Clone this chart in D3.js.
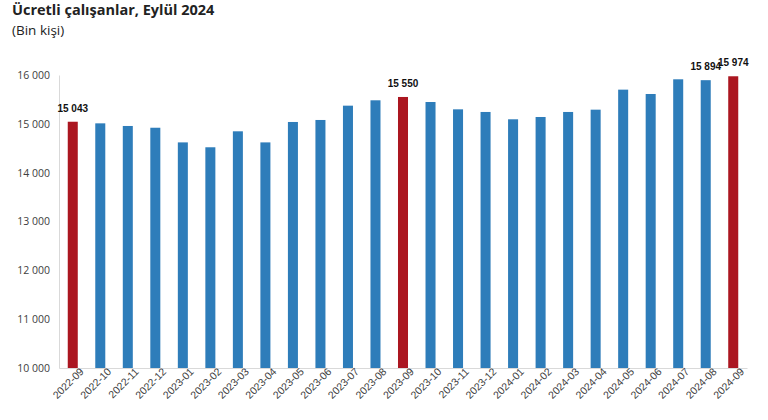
<!DOCTYPE html>
<html>
<head>
<meta charset="utf-8">
<script src="https://cdn.jsdelivr.net/npm/d3@7.9.0/dist/d3.min.js"></script>
<style>
  body { margin: 0; background: #fff; }
  svg { display: block; font-family: "Open Sans", "DejaVu Sans", sans-serif; }
</style>
</head>
<body>
<svg id="chart" width="768" height="420"></svg>
<script>
// months shown on the x axis
const months = [
  '2022-09', '2022-10', '2022-11', '2022-12', '2023-01', '2023-02', '2023-03',
  '2023-04', '2023-05', '2023-06', '2023-07', '2023-08', '2023-09', '2023-10',
  '2023-11', '2023-12', '2024-01', '2024-02', '2024-03', '2024-04', '2024-05',
  '2024-06', '2024-07', '2024-08', '2024-09'
];
// wage earners, thousands (labelled ones are exact)
const employees = [
  15043, 15010, 14956, 14920, 14620, 14520, 14847, 14620, 15038, 15079, 15372,
  15482, 15550, 15447, 15297, 15243, 15093, 15140, 15243, 15290, 15700, 15611,
  15912, 15894, 15974
];
// months highlighted in red (september of each year)
const highlighted = ['2022-09', '2023-09', '2024-09'];
// months carrying a value label
const labelled = ['2022-09', '2023-09', '2024-08', '2024-09'];
const yTicks = [10000, 11000, 12000, 13000, 14000, 15000, 16000];

const data = months.map((m, i) => ({ month: m, value: employees[i] }));

const svg = d3.select('#chart');
const margin = { top: 75, right: 21, bottom: 52, left: 59 };
const width = 768 - margin.left - margin.right;
const height = 420 - margin.top - margin.bottom;

const fmt = (v) => d3.format(',')(v).replace(/,/g, ' ');

const x = d3.scaleBand().domain(months).range([0, width]).paddingInner(0.636).paddingOuter(0.318);
const y = d3.scaleLinear().domain([10000, 16000]).range([height, 0]);

// titles
svg.append('text')
  .attr('x', 12).attr('y', 15)
  .attr('font-size', 14.5).attr('font-weight', 'bold').attr('fill', '#222')
  .text('Ücretli çalışanlar, Eylül 2024');
svg.append('text')
  .attr('x', 12).attr('y', 35)
  .attr('font-size', 13.5).attr('fill', '#222')
  .text('(Bin kişi)');

const g = svg.append('g').attr('transform', `translate(${margin.left},${margin.top})`);

// y axis labels + light axis line
const yAxis = g.append('g')
  .call(d3.axisLeft(y).tickValues(yTicks).tickSize(0).tickPadding(9).tickFormat(fmt));
yAxis.select('.domain').attr('stroke', '#d9d9d9');
yAxis.selectAll('text').attr('font-size', 10.5).attr('fill', '#404040')
  .attr('font-family', '"Open Sans", sans-serif');

// x axis
const xAxis = g.append('g')
  .attr('transform', `translate(0,${height})`)
  .call(d3.axisBottom(x).tickSize(0).tickPadding(6));
xAxis.select('.domain').attr('stroke', '#d9d9d9');
xAxis.selectAll('text')
  .attr('font-size', 10.5).attr('fill', '#404040')
  .attr('text-anchor', 'end')
  .attr('dx', '0.5em').attr('dy', '0.5em')
  .attr('transform', 'rotate(-45)');

// bars
g.selectAll('rect.bar')
  .data(data)
  .join('rect')
  .attr('class', 'bar')
  .attr('x', (d) => x(d.month))
  .attr('width', x.bandwidth())
  .attr('y', (d) => y(d.value))
  .attr('height', (d) => height - y(d.value))
  .attr('fill', (d) => highlighted.includes(d.month) ? '#ab1620' : '#2e7dba');

// value labels
g.selectAll('text.val')
  .data(data.filter((d) => labelled.includes(d.month)))
  .join('text')
  .attr('class', 'val')
  .attr('x', (d) => x(d.month) + x.bandwidth() / 2)
  .attr('y', (d) => y(d.value) - 10)
  .attr('text-anchor', 'middle')
  .attr('font-family', '"Liberation Sans", Arial, sans-serif')
  .attr('font-size', 10).attr('font-weight', 'bold').attr('fill', '#111')
  .text((d) => fmt(d.value));
</script>
</body>
</html>
